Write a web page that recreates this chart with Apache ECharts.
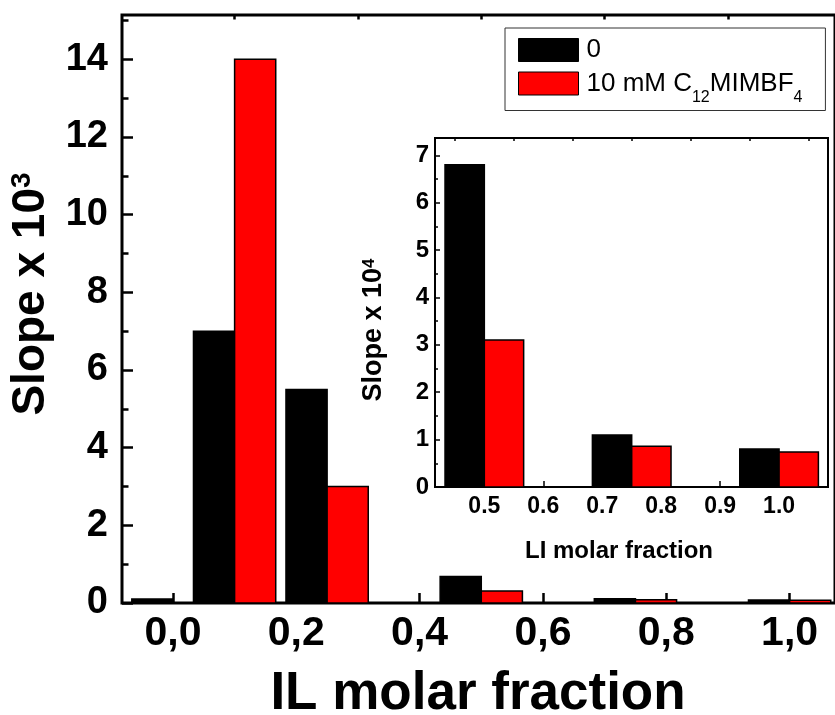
<!DOCTYPE html>
<html>
<head>
<meta charset="utf-8">
<script src="https://cdn.jsdelivr.net/npm/echarts@6/dist/echarts.min.js"></script>
<style>
  html, body { margin: 0; padding: 0; background: #fff; }
  #chart { width: 835px; height: 715px; }
</style>
</head>
<body>
<div id="chart"></div>
<script>
// main plot: slope x 10^3 vs IL molar fraction
const xGroups = [0, 0.1, 0.25, 0.5, 0.75, 1.0];
const slopeNoIL = [0.1, 7.0, 5.5, 0.68, 0.11, 0.08];
const slopeC12 = [0.0, 14.0, 3.0, 0.31, 0.085, 0.073];

// inset: slope x 10^4 for the high fractions
const insetGroups = [0.5, 0.75, 1.0];
const insetNoIL = [6.8, 1.1, 0.8];
const insetC12 = [3.1, 0.86, 0.74];

const mainXTicks = [0, 0.2, 0.4, 0.6, 0.8, 1.0];
const mainXMinor = [0.1, 0.3, 0.5, 0.7, 0.9];
const mainYTicks = [0, 2, 4, 6, 8, 10, 12, 14];
const mainYMinor = [1, 3, 5, 7, 9, 11, 13, 15];
const insetXTicks = [0.5, 0.6, 0.7, 0.8, 0.9, 1.0];
const insetXMinor = [0.45, 0.55, 0.65, 0.75, 0.85, 0.95, 1.05];
const insetYTicks = [0, 1, 2, 3, 4, 5, 6, 7];
const insetYMinor = [0.5, 1.5, 2.5, 3.5, 4.5, 5.5, 6.5];

const NAMES = ['0', '10 mM C12MIMBF4'];
const BAR_W = 0.0667; // bar width in x units
const FONT = 'Liberation Sans';

const chart = echarts.init(document.getElementById('chart'));

function pairs(xs, ys) {
  return xs.map((x, i) => [x, ys[i]]);
}

// side -1: bar left of group centre, +1: right of it
function barRenderer(side) {
  return function (params, api) {
    const x = api.value(0);
    const y = api.value(1);
    const x0 = side < 0 ? x - BAR_W : x;
    const p1 = api.coord([x0, y]);
    const p2 = api.coord([x0 + BAR_W, 0]);
    return {
      type: 'rect',
      shape: { x: p1[0], y: p1[1], width: p2[0] - p1[0], height: p2[1] - p1[1] },
      style: api.style()
    };
  };
}

function barSeries(name, side, data, xi, yi, color) {
  return {
    type: 'custom',
    name: name,
    xAxisIndex: xi,
    yAxisIndex: yi,
    renderItem: barRenderer(side),
    encode: { x: 0, y: 1 },
    data: data,
    clip: true,
    itemStyle: { color: color, borderColor: '#000', borderWidth: 1.5 },
    silent: true
  };
}

function valueAxis(extra) {
  return Object.assign({
    type: 'value',
    splitLine: { show: false },
    axisLine: { show: false, onZero: false },
  }, extra);
}

function minorAxis(extra, values, len, width) {
  return valueAxis(Object.assign({
    axisLabel: { show: false },
    axisTick: { show: true, inside: true, customValues: values, length: len, lineStyle: { color: '#000', width: width } }
  }, extra));
}

const lblMain = { fontFamily: FONT, fontWeight: 'bold', fontSize: 41, color: '#000' };
const lblInset = { fontFamily: FONT, fontWeight: 'bold', fontSize: 23, color: '#000' };

const option = {
  animation: false,
  backgroundColor: '#fff',
  grid: [
    { left: 122, top: 15, right: -5, bottom: 112, show: true, borderColor: '#000', borderWidth: 3, backgroundColor: 'transparent' },
    { left: 435, top: 138, right: 7, bottom: 228, show: true, borderColor: '#000', borderWidth: 2, backgroundColor: '#fff' }
  ],
  xAxis: [
    valueAxis({
      gridIndex: 0, min: -0.0826, max: 1.0736,
      axisTick: { show: true, inside: true, customValues: mainXTicks, length: 10, lineStyle: { color: '#000', width: 2.5 } },
      axisLabel: Object.assign({ customValues: mainXTicks, margin: 10, formatter: v => v.toFixed(1).replace('.', ',') }, lblMain)
    }),
    minorAxis({ gridIndex: 0, min: -0.0826, max: 1.0736 }, mainXMinor, 4.5, 2.5),
    valueAxis({
      gridIndex: 1, min: 0.4163, max: 1.083,
      axisTick: { show: true, inside: true, customValues: insetXTicks, length: 6, lineStyle: { color: '#000', width: 1.5 } },
      axisLabel: Object.assign({ customValues: insetXTicks, margin: 8, formatter: v => v.toFixed(1) }, lblInset)
    }),
    minorAxis({ gridIndex: 1, min: 0.4163, max: 1.083 }, insetXMinor, 3, 1.5)
  ],
  yAxis: [
    valueAxis({
      gridIndex: 0, min: 0, max: 15.14,
      axisTick: { show: true, inside: true, customValues: mainYTicks, length: 11, lineStyle: { color: '#000', width: 2.5 } },
      axisLabel: Object.assign({ customValues: mainYTicks, margin: 14 }, lblMain, { fontSize: 38 })
    }),
    minorAxis({ gridIndex: 0, min: 0, max: 15.14, position: 'left' }, mainYMinor, 6.5, 2.5),
    valueAxis({
      gridIndex: 1, min: 0, max: 7.365,
      axisTick: { show: true, inside: true, customValues: insetYTicks, length: 5, lineStyle: { color: '#000', width: 1.5 } },
      axisLabel: Object.assign({ customValues: insetYTicks, margin: 6 }, lblInset, { fontSize: 24 })
    }),
    minorAxis({ gridIndex: 1, min: 0, max: 7.365, position: 'left' }, insetYMinor, 3, 1.5)
  ],
  legend: {
    data: NAMES,
    left: 505,
    top: 28,
    orient: 'vertical',
    selectedMode: false,
    icon: 'rect',
    itemWidth: 60,
    itemHeight: 23,
    itemGap: 0.5,
    padding: [9, 23, 5, 13],
    borderColor: '#333',
    borderWidth: 1,
    backgroundColor: '#fff',
    itemStyle: { borderColor: '#000', borderWidth: 1 },
    formatter: name => name === NAMES[1] ? '{m|10 mM C}{sub|12}{m|MIMBF}{sub|4}' : name,
    textStyle: {
      fontFamily: FONT, fontSize: 26, color: '#000', lineHeight: 23, padding: [0, 0, 0, 3],
      rich: {
        m: { fontFamily: FONT, fontSize: 26, color: '#000', lineHeight: 40 },
        sub: { fontFamily: FONT, fontSize: 16, color: '#000', lineHeight: 40, height: 12, verticalAlign: 'bottom' }
      }
    }
  },
  graphic: [
    {
      type: 'text', x: 31, y: 294, rotation: Math.PI / 2,
      style: {
        text: 'Slope x 10{sup|3}', align: 'center', verticalAlign: 'middle',
        font: 'bold 46px "Liberation Sans"', fill: '#000',
        rich: { sup: { font: 'bold 28px "Liberation Sans"', fill: '#000', verticalAlign: 'top' } }
      }
    },
    {
      type: 'text', x: 478, y: 694,
      style: { text: 'IL molar fraction', align: 'center', verticalAlign: 'middle', font: 'bold 53px "Liberation Sans"', fill: '#000' }
    },
    {
      type: 'text', x: 374, y: 330, rotation: Math.PI / 2,
      style: {
        text: 'Slope x 10{sup|4}', align: 'center', verticalAlign: 'middle',
        font: 'bold 27px "Liberation Sans"', fill: '#000',
        rich: { sup: { font: 'bold 17px "Liberation Sans"', fill: '#000', verticalAlign: 'top' } }
      }
    },
    {
      type: 'text', x: 619, y: 551,
      style: { text: 'LI molar fraction', align: 'center', verticalAlign: 'middle', font: 'bold 24px "Liberation Sans"', fill: '#000' }
    }
  ],
  series: [
    barSeries(NAMES[0], -1, pairs(xGroups, slopeNoIL), 0, 0, '#000000'),
    barSeries(NAMES[1], 1, pairs(xGroups, slopeC12), 0, 0, '#ff0000'),
    barSeries(NAMES[0], -1, pairs(insetGroups, insetNoIL), 2, 2, '#000000'),
    barSeries(NAMES[1], 1, pairs(insetGroups, insetC12), 2, 2, '#ff0000')
  ]
};

chart.setOption(option);
</script>
</body>
</html>
